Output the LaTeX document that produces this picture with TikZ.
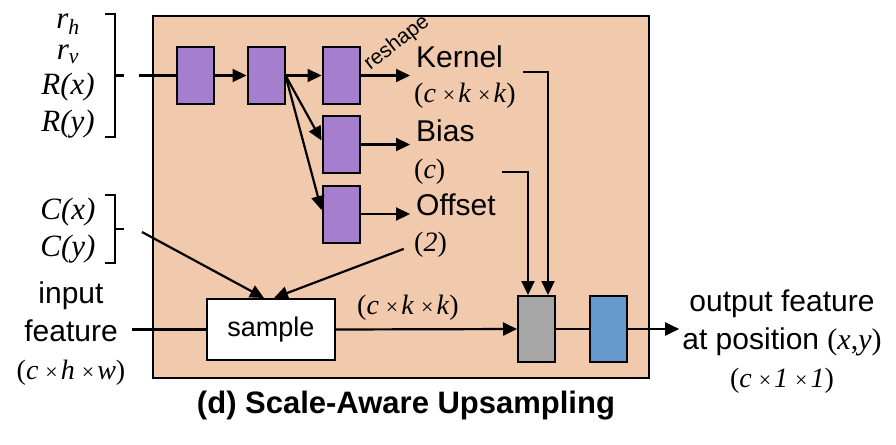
\documentclass[tikz,border=0pt]{standalone}
\usepackage{fontspec}
\setmainfont{Liberation Serif}
\setsansfont{Liberation Sans}
\usepackage{tikz}
\usetikzlibrary{arrows.meta}
\definecolor{peach}{RGB}{241,201,172}
\definecolor{convpurple}{RGB}{166,126,206}
\definecolor{boxgray}{RGB}{166,166,166}
\definecolor{boxblue}{RGB}{102,153,204}
\newcommand{\tms}{\hspace{7pt}{\fontsize{22}{22}\selectfont ×}\hspace{3pt}}
\tikzset{
    blk/.style={draw, line width=2pt, minimum width=37pt, minimum height=57pt, inner sep=0pt},
    conv/.style={blk, fill=convpurple},
    lbl/.style={font=\sffamily\fontsize{30}{38}\selectfont, inner sep=0pt},
    dimtxt/.style={font=\fontsize{28}{34}\selectfont, inner sep=0pt},
    var/.style={font=\itshape\fontsize{31}{36}\selectfont, inner sep=0pt},
    conn/.style={line width=2.2pt},
    arr/.style={conn, -{Triangle[length=14pt,width=13pt]}}
}
\begin{document}
\begin{tikzpicture}[x=1pt,y=-1pt]
                        \useasboundingbox (0,0) rectangle (896,444);
                        \draw[fill=peach, line width=1.5pt] (153,16) rectangle (649,378);

                        % inputs on the left
                        \foreach \ya/\yb/\yc in {14/137/75.5, 195/263/229}
                            \draw[conn] (105,\ya) -- (115,\ya) -- (115,\yb) -- (105,\yb)
                                (115,\yc) -- (124,\yc);
                        \node[var] (rh) at (68,24) {r\textsubscript{h}};
                        \node[var] (rv) at (68,54) {r\textsubscript{v}};
                        \node[var] (Rx) at (68,87) {R(x)};
                        \node[var] (Ry) at (68,124) {R(y)};
                        \node[var] (Cx) at (68,212) {C(x)};
                        \node[var] (Cy) at (68,249) {C(y)};

                        % weight branch
                        \node[conv] (c1) at (195.5,75.5) {};
                        \node[conv] (c2) at (266,75.5) {};
                        \node[conv] (c3) at (341,75.5) {};
                        \node[conv] (cb) at (341,144.5) {};
                        \node[conv] (co) at (341,214) {};

                        \node[lbl, anchor=west] (kern) at (416,57) {Kernel};
                        \node[dimtxt, anchor=west] (kdim) at (414,96) {(\textit{c}\tms\textit{k}\tms\textit{k})};
                        \node[lbl, anchor=west] (bias) at (416,131) {Bias};
                        \node[dimtxt, anchor=west] (bdim) at (414,172) {(\textit{c})};
                        \node[lbl, anchor=west] (offs) at (416,205) {Offset};
                        \node[dimtxt, anchor=west] (odim) at (414,245) {(\textit{2})};
                        \node[lbl, font=\sffamily\fontsize{21}{21}\selectfont, rotate=38] (rsh) at (397,43) {reshape};

                        \coordinate (rin) at (139,75.5);
                        \draw[conn] (rin) -- (c1.west);
                        \draw[arr] (c1.east) -- (c2.west);
                        \draw[arr] (c2.east) -- (c3.west);
                        \draw[arr] (c2.east) -- ([yshift=4pt]cb.west);
                        \draw[arr] (c2.east) -- ([yshift=4pt]co.west);
                        \draw[arr, shorten >=4pt] (c3.east) -- (c3.east -| kdim.west);
                        \draw[arr, shorten >=4pt] (cb.east) -- (cb.east -| kdim.west);
                        \draw[arr, shorten >=4pt] (co.east) -- (co.east -| kdim.west);

                        % sampling branch
                        \node[lbl, align=center] (inp) at (71,334) {input\\feature\\{\rmfamily\fontsize{28}{34}\selectfont(\textit{c}\tms\textit{h}\tms\textit{w})}};
                        \node[blk, fill=white, minimum width=128pt, minimum height=61pt,
                              font=\sffamily\fontsize{27}{30}\selectfont] (smp) at (271,329.5) {sample};
                        \node[dimtxt] (sdim) at (408,308) {(\textit{c}\tms\textit{k}\tms\textit{k})};
                        \node[blk, fill=boxgray, minimum height=66pt] (g) at (536.5,329) {};
                        \node[blk, fill=boxblue, minimum height=66pt] (b) at (608.5,329) {};
                        \node[lbl, align=center] (outp) at (782,342) {output feature\\at position {\rmfamily(\textit{x},\textit{y})}\\{\rmfamily\fontsize{28}{34}\selectfont(\textit{c}\tms\textit{1}\tms\textit{1})}};

                        \coordinate (cxy) at (142,232);
                        \coordinate (kout) at (523,72);
                        \coordinate (bout) at (502,172);
                        \draw[arr] (cxy) -- ([xshift=-7pt]smp.north);
                        \draw[arr, shorten <=11pt] (odim.west) -- ([xshift=3pt]smp.north);
                        \draw[conn, shorten <=7pt] (smp.west -| inp.east) -- (smp.west);
                        \draw[arr] (smp.east) -- (g.west);
                        \draw[conn] (g.east) -- (b.west);
                        \draw[arr, shorten >=3pt] (b.east) -- (b.east -| outp.west);
                        \draw[arr] (kout) -| ([xshift=11.5pt]g.north);
                        \draw[arr] (bout) -| ([xshift=-8.5pt]g.north);

                        \node[lbl, font=\sffamily\bfseries\fontsize{31}{36}\selectfont] (ttl) at (406,406) {(d) Scale-Aware Upsampling};
                    \end{tikzpicture}
\end{document}
